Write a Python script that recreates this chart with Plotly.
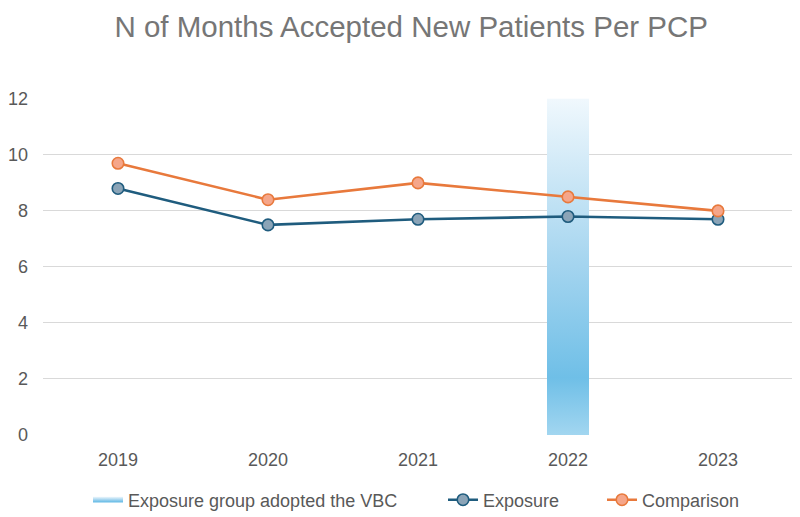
import plotly.graph_objects as go

years = ["2019", "2020", "2021", "2022", "2023"]
exposure = [8.8, 7.5, 7.7, 7.8, 7.7]
comparison = [9.7, 8.4, 9.0, 8.5, 8.0]
vbc_year = "2022"
vbc_height = 12
y_ticks = [0, 2, 4, 6, 8, 10, 12]

idx = list(range(len(years)))
bi = years.index(vbc_year)
hw = 0.14

# page body adds an 8px offset; positions below are in figure pixels
W, H = 800, 517
ML, MT = 35, 90
PW, PH = 750, 337
MR, MB = W - ML - PW, H - MT - PH


def px_x(px):
    return (px - ML) / PW


def px_y(py):
    return (MT + PH - py) / PH


fig = go.Figure()
fig.add_trace(go.Scatter(
    x=[bi - hw, bi + hw, bi + hw, bi - hw, bi - hw],
    y=[0, 0, vbc_height, vbc_height, 0],
    mode="none", fill="toself",
    fillgradient=dict(type="vertical", start=0, stop=vbc_height,
                      colorscale=[[0, "#a2d6f0"], [0.17, "#6fbfe7"], [0.5, "#a3d4ef"], [1, "#f0f8fd"]]),
    name="Exposure group adopted the VBC", hoverinfo="skip", legend="legend",
))
fig.add_trace(go.Scatter(
    x=idx, y=exposure, mode="lines+markers", name="Exposure", legend="legend2",
    line=dict(color="#1f5c7e", width=2.6),
    marker=dict(size=11.5, color="#8ba4b7", line=dict(color="#1f5c7e", width=1.6)),
))
fig.add_trace(go.Scatter(
    x=idx, y=comparison, mode="lines+markers", name="Comparison", legend="legend3",
    line=dict(color="#e8793c", width=2.6),
    marker=dict(size=11.5, color="#f5a68a", line=dict(color="#e8793c", width=1.6)),
))

leg_common = dict(orientation="h", yanchor="middle", xanchor="left", y=px_y(492),
                  font=dict(size=18, color="#595959"), bgcolor="rgba(0,0,0,0)")

fig.update_layout(
    width=W, height=H,
    paper_bgcolor="white", plot_bgcolor="white",
    margin=dict(l=ML, r=MR, t=MT, b=MB, autoexpand=False),
    font=dict(family="Liberation Sans, Arial, sans-serif", size=18, color="#595959"),
    title=dict(text="N of Months Accepted New Patients Per PCP", x=0.504, xanchor="center",
               y=0.963, yanchor="middle",
               font=dict(size=29.5, color="#767676")),
    showlegend=True,
    legend=dict(x=px_x(80), **leg_common),
    legend2=dict(x=px_x(435), **leg_common),
    legend3=dict(x=px_x(594), **leg_common),
    xaxis=dict(range=[-0.5, len(years) - 0.5], tickmode="array", tickvals=idx, ticktext=years,
               showgrid=False, zeroline=False, showline=False, ticks="", automargin=False,
               ticklabelstandoff=12, fixedrange=True),
    yaxis=dict(range=[0, 12.03], tickmode="array", tickvals=y_ticks, automargin=False,
               showgrid=True, gridcolor="#d9d9d9", gridwidth=1, zeroline=False,
               showline=False, ticks="", ticklabelstandoff=14, fixedrange=True),
)

fig.write_html("out.html")
